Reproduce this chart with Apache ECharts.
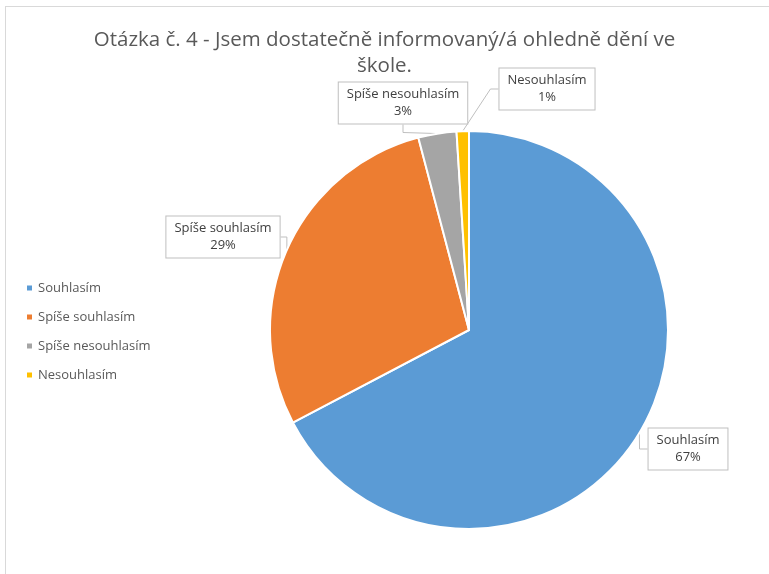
<!DOCTYPE html>
<html>
<head>
<meta charset="utf-8">
<script src="https://cdn.jsdelivr.net/npm/echarts@6/dist/echarts.min.js"></script>
<style>
html,body{margin:0;padding:0;width:769px;height:574px;overflow:hidden;background:#fff;}
#frame{position:absolute;left:5px;top:6px;width:820px;height:620px;border:1px solid #d9d9d9;box-sizing:border-box;}
#chart{position:absolute;left:0;top:0;width:769px;height:574px;}
</style>
</head>
<body>
<div id="frame"></div>
<div id="chart"></div>
<script>
const titleText = 'Otázka č. 4 - Jsem dostatečně informovaný/á ohledně dění ve\nškole.';
const categories = ['Souhlasím', 'Spíše souhlasím', 'Spíše nesouhlasím', 'Nesouhlasím'];
const values = [67.3, 28.6, 3.1, 1.0];
const colors = ['#5b9bd5', '#ed7d31', '#a5a5a5', '#ffc000'];

// callout label centres (Excel-like placement)
const labelSpots = [[688, 449], [223, 237], [403, 103], [547, 89]];

const chart = echarts.init(document.getElementById('chart'), null, {renderer: 'canvas'});
const fontFam = '"Open Sans", Lato, sans-serif';
chart.setOption({
  animation: false,
  color: colors,
  title: {
    text: titleText,
    left: 'center',
    top: 22,
    textStyle: {fontFamily: fontFam, fontSize: 20.5, fontWeight: 'normal', color: '#595959', lineHeight: 26}
  },
  legend: {
    orient: 'vertical',
    left: 20,
    top: 275,
    itemWidth: 7,
    itemHeight: 7,
    itemGap: 13,
    icon: 'rect',
    textStyle: {fontFamily: fontFam, fontSize: 13, color: '#595959', lineHeight: 16},
    data: categories
  },
  series: [{
    type: 'pie',
    center: [469, 330],
    radius: 199,
    startAngle: 90,
    clockwise: true,
    percentPrecision: 0,
    itemStyle: {borderColor: '#fff', borderWidth: 2},
    label: {
      show: true,
      position: 'outside',
      formatter: '{b}\n{d}%',
      fontFamily: fontFam,
      fontSize: 13,
      color: '#404040',
      lineHeight: 17,
      align: 'center',
      backgroundColor: '#fff',
      borderColor: '#bfbfbf',
      borderWidth: 1,
      padding: [4, 8, 3, 8]
    },
    labelLayout: function (p) {
      const s = labelSpots[p.dataIndex];
      return {x: s[0], y: s[1], align: 'center', verticalAlign: 'middle'};
    },
    labelLine: {show: true, length: 12, length2: 8, lineStyle: {color: '#bfbfbf', width: 1}},
    data: categories.map((c, i) => ({name: c, value: values[i]}))
  }]
});
</script>
</body>
</html>
